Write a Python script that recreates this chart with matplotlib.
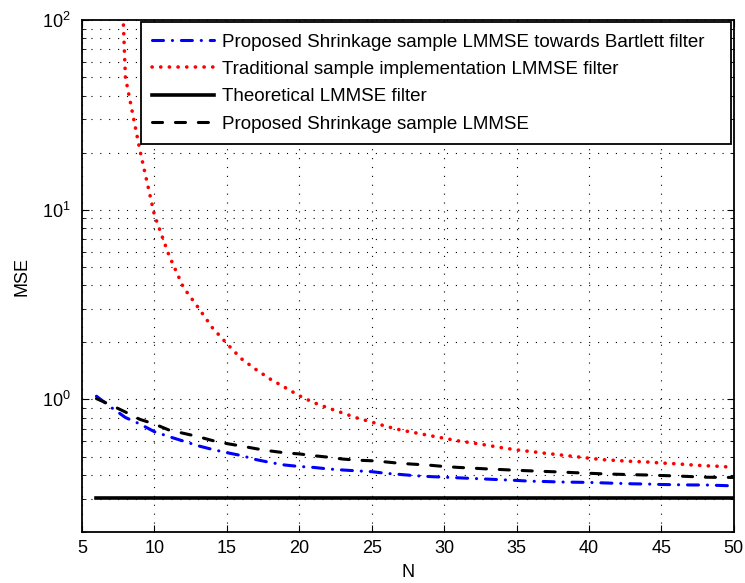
import matplotlib
matplotlib.use('Agg')
import matplotlib.pyplot as plt
import numpy as np
from matplotlib.ticker import NullFormatter, LogLocator

plt.rcParams['font.family'] = ['Liberation Sans', 'DejaVu Sans']

# sample size
N = list(range(6, 51))

# MSE curves (log scale)
mse_shrink_bartlett = [1.04, 0.91, 0.803, 0.742, 0.676, 0.637, 0.603, 0.570, 0.545, 0.524,
                       0.506, 0.482, 0.465, 0.451, 0.443, 0.438, 0.430, 0.4245, 0.420, 0.416,
                       0.4075, 0.402, 0.396, 0.392, 0.389, 0.386, 0.383, 0.380, 0.377, 0.374,
                       0.3705, 0.369, 0.367, 0.366, 0.365, 0.363, 0.361, 0.359, 0.358, 0.356,
                       0.355, 0.354, 0.354, 0.352, 0.350]
mse_traditional = [np.nan, 5000, 50, 20.6, 9.4, 5.77, 3.9, 3.07, 2.39, 1.97,
                   1.64, 1.44, 1.28, 1.158, 1.046, 0.962, 0.901, 0.848, 0.798, 0.760,
                   0.721, 0.690, 0.667, 0.645, 0.624, 0.604, 0.589, 0.573, 0.556, 0.542,
                   0.531, 0.520, 0.510, 0.500, 0.490, 0.481, 0.476, 0.471, 0.468, 0.462,
                   0.458, 0.452, 0.447, 0.444, 0.438]
mse_theoretical = [0.302] * 45
mse_shrink = [1.01, 0.934, 0.858, 0.785, 0.742, 0.690, 0.663, 0.637, 0.607, 0.585,
              0.568, 0.550, 0.535, 0.523, 0.516, 0.505, 0.496, 0.485, 0.478, 0.475,
              0.468, 0.460, 0.455, 0.450, 0.443, 0.438, 0.434, 0.430, 0.4266, 0.423,
              0.420, 0.417, 0.4144, 0.411, 0.408, 0.405, 0.403, 0.401, 0.3995, 0.397,
              0.395, 0.392, 0.389, 0.388, 0.388]

labels = ['Proposed Shrinkage sample LMMSE towards Bartlett filter',
          'Traditional sample implementation LMMSE filter',
          'Theoretical LMMSE filter',
          'Proposed Shrinkage sample LMMSE']


def main():
    fig = plt.figure(figsize=(7.45, 5.83), dpi=100)
    ax = fig.add_axes([0.110, 0.0875, 0.875, 0.878])

    lw = 2.2
    ax.plot(N, mse_shrink_bartlett, color='b', lw=lw, dash_capstyle='round',
            linestyle=(0, (3.6, 2.9, 0.05, 2.9)), label=labels[0])
    ax.plot(N, mse_traditional, color='r', lw=2.6, dash_capstyle='round',
            linestyle=(0, (0.05, 2.35)), label=labels[1])
    ax.plot(N, mse_theoretical, color='k', lw=2.6, label=labels[2])
    ax.plot(N, mse_shrink, color='k', lw=lw, dash_capstyle='round',
            linestyle=(0, (3.3, 4.2)), label=labels[3])

    ax.set_yscale('log')
    ax.set_xlim(5, 50)
    ax.set_ylim(0.2, 100)
    ax.set_xticks(range(5, 51, 5))
    ax.yaxis.set_minor_locator(LogLocator(base=10, subs=np.arange(2, 10)))
    ax.yaxis.set_minor_formatter(NullFormatter())

    # matlab style dotted grid
    gstyle = dict(color='k', linewidth=0.8, linestyle=(0, (1, 7)))
    ax.grid(True, which='major', axis='both', **gstyle)
    ax.grid(True, which='minor', axis='y', **gstyle)

    ax.tick_params(which='both', direction='in', top=True, right=True, labelsize=13)
    ax.tick_params(which='major', length=5)
    ax.tick_params(which='minor', length=3)
    ax.tick_params(axis='x', pad=6)
    ax.tick_params(axis='y', pad=8)
    for s in ax.spines.values():
        s.set_linewidth(1.3)

    ax.set_xlabel('N', fontsize=13, labelpad=5)
    ax.set_ylabel('MSE', fontsize=13, labelpad=8)

    # expanded legend box so the extra width sits right of the text, like matlab
    leg = ax.legend(loc='upper right', bbox_to_anchor=(0.0905, 0.5, 0.905, 0.496),
                    mode='expand', fontsize=13.5, fancybox=False, framealpha=1,
                    edgecolor='k', borderaxespad=0, handlelength=3.3,
                    handletextpad=0.4, labelspacing=0.55, borderpad=0.6)
    leg.get_frame().set_linewidth(1.3)

    fig.savefig('out.png', dpi=100)


if __name__ == '__main__':
    main()
